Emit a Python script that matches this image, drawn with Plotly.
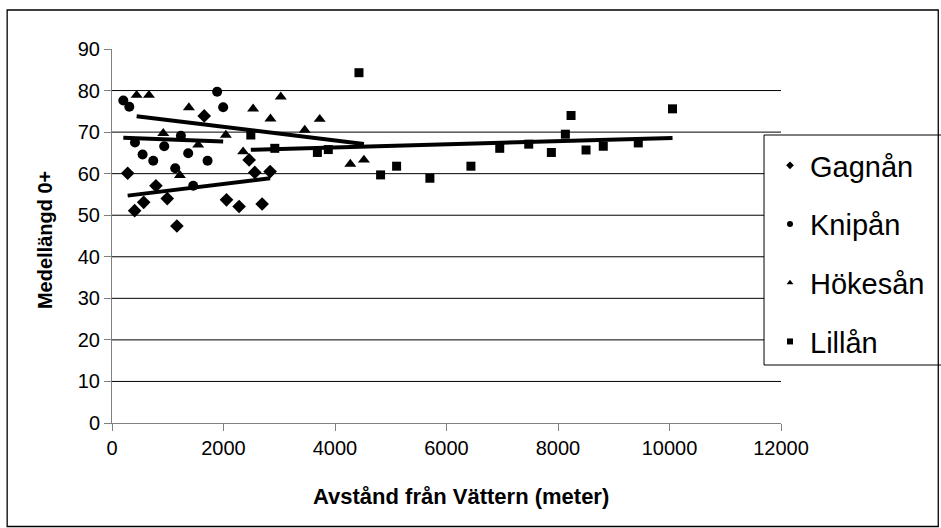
import numpy as np
import plotly.graph_objects as go

# ---- data ----
gagnan_x = [281, 406, 568, 788, 991, 1164, 1654, 2054, 2280, 2460, 2561, 2693, 2836]
gagnan_y = [60.1, 51.1, 53.1, 57.1, 54.0, 47.4, 73.9, 53.7, 52.1, 63.3, 60.3, 52.7, 60.5]

knipan_x = [203, 310, 412, 549, 740, 937, 1134, 1236, 1457, 1367, 1714, 1886, 1994]
knipan_y = [77.6, 76.1, 67.5, 64.6, 63.1, 66.6, 61.3, 69.1, 57.1, 64.9, 63.1, 79.7, 76.0]

hokesan_x = [442, 663, 919, 1218, 1379, 1546, 2042, 2352, 2531, 2842, 3027, 3457, 3726, 4275, 4519]
hokesan_y = [78.9, 78.9, 69.7, 59.6, 75.9, 66.9, 69.3, 65.3, 75.6, 73.2, 78.5, 70.5, 73.1, 62.3, 63.3]

lillan_x = [2490, 2920, 3684, 3880, 4430, 4818, 5105, 5702, 6438, 6955, 7475, 7881, 8132, 8234, 8503, 8812, 9440, 10054]
lillan_y = [69.3, 66.1, 65.1, 65.8, 84.3, 59.7, 61.8, 58.9, 61.8, 66.1, 67.1, 65.1, 69.5, 74.0, 65.7, 66.6, 67.4, 75.6]

series_names = ["Gagnån", "Knipån", "Hökesån", "Lillån"]
series_symbols = ["diamond", "circle", "triangle-up", "square"]
series_sizes = [10.5, 10, 10.5, 9]

x_ticks = [0, 2000, 4000, 6000, 8000, 10000, 12000]
x_ticklabels = ["0", "2000", "4000", "6000", "8000", "10000", "12000"]
y_ticks = [0, 10, 20, 30, 40, 50, 60, 70, 80, 90]
y_ticklabels = ["0", "10", "20", "30", "40", "50", "60", "70", "80", "90"]
grid_vals = [10, 20, 30, 40, 50, 60, 70, 80]

W, H = 941, 528
L, R, T, B = 112, 782, 49, 423

data = [(gagnan_x, gagnan_y), (knipan_x, knipan_y), (hokesan_x, hokesan_y), (lillan_x, lillan_y)]

fig = go.Figure()
FONT = "Liberation Sans, Arial, sans-serif"

for (xs, ys), name, sym, sz in zip(data, series_names, series_symbols, series_sizes):
    fig.add_trace(go.Scatter(x=xs, y=ys, mode="markers", name=name, showlegend=False,
                             marker=dict(symbol=sym, size=sz, color="black")))
for (xs, ys) in data:
    k, m = np.polyfit(xs, ys, 1)
    x0, x1 = min(xs), max(xs)
    fig.add_trace(go.Scatter(x=[x0, x1], y=[k * x0 + m, k * x1 + m], mode="lines",
                             showlegend=False, line=dict(color="black", width=4)))
# legend entries
for name, sym in zip(series_names, series_symbols):
    fig.add_trace(go.Scatter(x=[None], y=[None], mode="markers", name=name, legendgroup=name,
                             marker=dict(symbol=sym, size=6, color="black")))

def px_x(p):
    return (p - L) / (R - L)

def px_y(p):
    return (B - p) / (B - T)

shapes = []
for g in grid_vals:
    shapes.append(dict(type="line", xref="paper", yref="y", x0=0, x1=1, y0=g, y1=g,
                       line=dict(color="black", width=1), layer="below"))
# legend box
shapes.append(dict(type="rect", xref="paper", yref="paper", x0=px_x(765), x1=px_x(960),
                   y0=px_y(365), y1=px_y(135), line=dict(color="black", width=1),
                   fillcolor="white", layer="above"))
# chart border
shapes.append(dict(type="rect", xref="paper", yref="paper", x0=px_x(7), x1=px_x(939.5),
                   y0=px_y(526.5), y1=px_y(10), line=dict(color="black", width=1.3),
                   fillcolor="rgba(0,0,0,0)", layer="above"))

annotations = [
    dict(text="<b>Avstånd från Vättern (meter)</b>", xref="paper", yref="paper",
         x=px_x(462), y=px_y(496), xanchor="center", yanchor="middle", showarrow=False,
         font=dict(size=22, color="black", family=FONT)),
    dict(text="<b>Medellängd 0+</b>", xref="paper", yref="paper", textangle=-90,
         x=px_x(45), y=px_y(240), xanchor="center", yanchor="middle", showarrow=False,
         font=dict(size=20, color="black", family=FONT)),
]

fig.update_layout(
    width=W, height=H,
    margin=dict(l=L, r=W - R, t=T, b=H - B),
    paper_bgcolor="white", plot_bgcolor="white",
    font=dict(family=FONT, color="black", size=20),
    shapes=shapes, annotations=annotations,
    legend=dict(x=px_x(770), y=px_y(140), xanchor="left", yanchor="top",
                bgcolor="rgba(0,0,0,0)", borderwidth=0, tracegroupgap=18,
                font=dict(size=29, family=FONT, color="black"), itemsizing="trace"),
    xaxis=dict(range=[0, 12000], tickvals=x_ticks, ticktext=x_ticklabels, ticks="outside", ticklen=7,
               tickcolor="#808080", showline=True, linecolor="#808080", linewidth=1,
               showgrid=False, zeroline=False, tickfont=dict(size=20)),
    yaxis=dict(range=[0, 90], tickvals=y_ticks, ticktext=y_ticklabels, ticks="outside", ticklen=7,
               tickcolor="#808080", showline=True, linecolor="#808080", linewidth=1,
               showgrid=False, zeroline=False, tickfont=dict(size=20)),
)

fig.write_html("out.html")
